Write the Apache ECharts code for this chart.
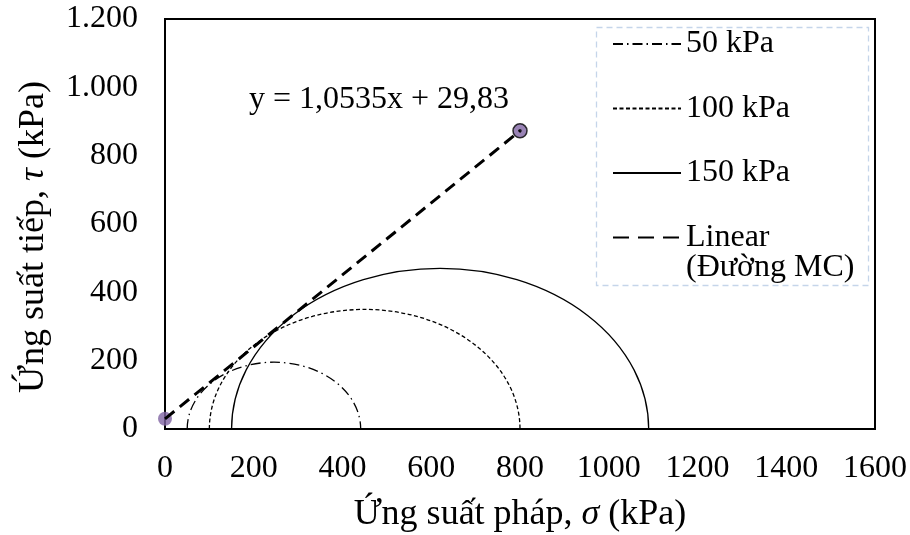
<!DOCTYPE html>
<html>
<head>
<meta charset="utf-8">
<script src="https://cdn.jsdelivr.net/npm/echarts@6/dist/echarts.min.js"></script>
<style>
  html, body { margin: 0; padding: 0; background: #fff; }
  #chart { width: 910px; height: 535px; }
</style>
</head>
<body>
<div id="chart"></div>
<script>
// Mohr circles: confining pressure (sigma3) and major principal stress (sigma1), kPa
const circleNames = ['50 kPa', '100 kPa', '150 kPa'];
const sigma3 = [50, 100, 150];
const sigma1 = [441, 800, 1090];

// Mohr–Coulomb envelope: y = 1,0535x + 29,83, drawn over sigma 0..800
const envName = 'Linear';
const envSlope = 1.0535;
const envIntercept = 29.83;
const envX = [0, 800];

// Axis tick labels
const xTickLabels = ['0', '200', '400', '600', '800', '1000', '1200', '1400', '1600'];
const yTickLabels = ['0', '200', '400', '600', '800', '1.000', '1.200'];

const FONT = 'Liberation Serif';
const envPoints = envX.map(x => [x, envSlope * x + envIntercept]);

const circleDash = [
  [10, 4, 1.5, 4],  // long dash - dot
  [4, 2.5],         // short dash
  null              // solid
];

const series = [];

// Line styles shown in the legend
circleNames.forEach((name, i) => {
  series.push({
    name: name,
    type: 'line',
    data: [],
    symbol: 'none',
    itemStyle: { color: '#000' },
    lineStyle: { color: '#000', width: 1.3, type: circleDash[i] || 'solid' }
  });
});

// Half circles drawn through the cartesian scales
circleNames.forEach((name, i) => {
  series.push({
    name: name,
    type: 'custom',
    coordinateSystem: 'cartesian2d',
    encode: { x: [0, 1] },
    data: [[sigma3[i], sigma1[i]]],
    silent: true,
    z: 2,
    renderItem: function (params, api) {
      const s3 = api.value(0), s1 = api.value(1);
      const c = (s3 + s1) / 2, r = (s1 - s3) / 2;
      const p0 = api.coord([s3, 0]);
      const p1 = api.coord([s1, 0]);
      const pc = api.coord([c, 0]);
      const top = api.coord([c, r]);
      const rx = (p1[0] - p0[0]) / 2;
      const ry = pc[1] - top[1];
      return {
        type: 'path',
        shape: {
          pathData: 'M' + p0[0] + ' ' + p0[1] + ' A ' + rx + ' ' + ry + ' 0 0 1 ' + p1[0] + ' ' + p1[1]
        },
        style: {
          fill: 'none',
          stroke: '#000',
          lineWidth: 1.3,
          lineDash: circleDash[i]
        }
      };
    }
  });
});

// End markers of the envelope
series.push({
  name: 'ends',
  type: 'scatter',
  z: 3,
  symbolSize: 14,
  data: [
    { value: envPoints[0], itemStyle: { color: '#8064A2' } },
    { value: envPoints[1], itemStyle: { color: '#8064A2', borderColor: '#000', borderWidth: 1.5 } }
  ]
});

// Envelope line
series.push({
  name: envName,
  type: 'line',
  data: envPoints,
  symbol: 'none',
  z: 4,
  itemStyle: { color: '#000' },
  lineStyle: { color: '#000', width: 3, type: [12, 7] }
});

series.push({
  name: 'endDot',
  type: 'scatter',
  z: 5,
  symbolSize: 3.5,
  data: [envPoints[1]],
  itemStyle: { color: '#000' }
});

const chart = echarts.init(document.getElementById('chart'), null, { renderer: 'canvas' });
chart.setOption({
  animation: false,
  backgroundColor: '#fff',
  grid: {
    left: 165, top: 19, right: 35, bottom: 106,
    outerBoundsMode: 'none',
    containLabel: false,
    show: true, borderColor: '#000', borderWidth: 2, backgroundColor: 'transparent'
  },
  xAxis: {
    type: 'value', min: 0, max: 1600, interval: 200,
    axisLine: { show: true, lineStyle: { color: '#000', width: 2 } },
    axisTick: { show: false },
    splitLine: { show: false },
    axisLabel: {
      color: '#000', fontFamily: FONT, fontSize: 32, margin: 24,
      formatter: v => xTickLabels[Math.round(v / 200)]
    },
    name: '{n|Ứng suất pháp, }{i|σ}{n| (kPa)}',
    nameLocation: 'middle',
    nameGap: 68,
    nameTextStyle: {
      rich: {
        n: { fontFamily: FONT, fontSize: 36, color: '#000' },
        i: { fontFamily: FONT, fontSize: 36, color: '#000', fontStyle: 'italic' }
      }
    }
  },
  yAxis: {
    type: 'value', min: 0, max: 1200, interval: 200,
    axisLine: { show: true, lineStyle: { color: '#000', width: 2 } },
    axisTick: { show: false },
    splitLine: { show: false },
    axisLabel: {
      color: '#000', fontFamily: FONT, fontSize: 32, margin: 27,
      formatter: v => yTickLabels[Math.round(v / 200)]
    },
    name: '{n|Ứng suất tiếp, }{i|τ}{n| (kPa)}',
    nameLocation: 'middle',
    nameGap: 113,
    nameTextStyle: {
      padding: [0, 26, 0, 0],
      rich: {
        n: { fontFamily: FONT, fontSize: 36, color: '#000' },
        i: { fontFamily: FONT, fontSize: 36, color: '#000', fontStyle: 'italic' }
      }
    }
  },
  legend: {
    data: circleNames.concat([{ name: envName, lineStyle: { type: [16, 9] } }]),
    orient: 'vertical',
    left: 612,
    top: 28,
    itemWidth: 68,
    itemHeight: 14,
    itemGap: 32.5,
    padding: 0,
    itemStyle: { opacity: 0 },
    textStyle: { fontFamily: FONT, fontSize: 32, color: '#000' },
    selectedMode: false
  },
  graphic: [
    {
      type: 'rect',
      shape: { x: 596.5, y: 27.5, width: 272, height: 258 },
      style: { fill: 'none', stroke: '#C5D5EA', lineWidth: 1.3, lineDash: [6, 4] },
      silent: true, z: 10
    },
    {
      type: 'text',
      left: 686, top: 252,
      style: { text: '(Đường MC)', fontFamily: FONT, fontSize: 32, fill: '#000' },
      silent: true, z: 10
    },
    {
      type: 'text',
      left: 249, top: 84,
      style: { text: 'y = 1,0535x + 29,83', fontFamily: FONT, fontSize: 32, fill: '#000' },
      silent: true, z: 10
    }
  ],
  series: series
});
</script>
</body>
</html>
